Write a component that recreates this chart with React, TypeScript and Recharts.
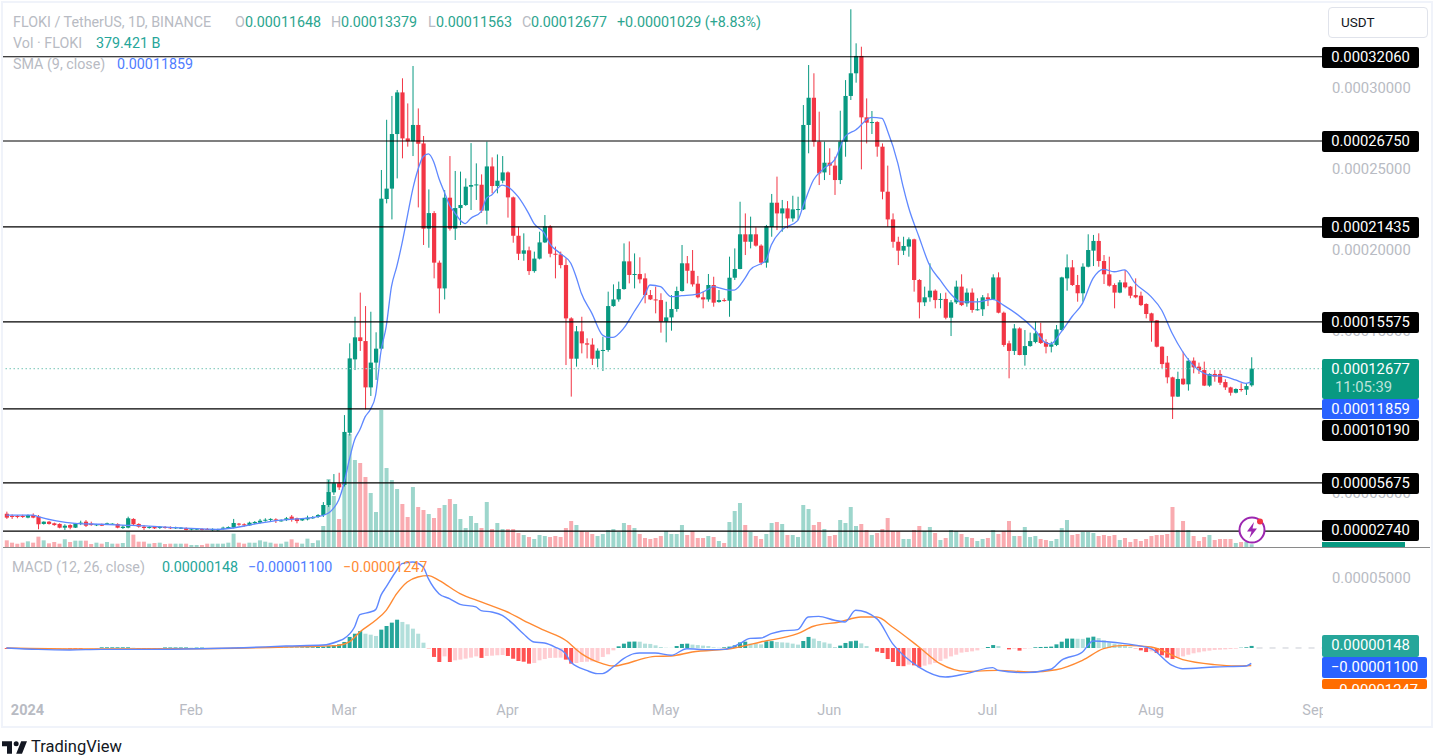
import React from "react";
import { ComposedChart, Bar, Line, XAxis, YAxis, ReferenceLine, Cell } from "recharts";

// All prices are in units of 0.00001 USDT. Each candle row: open, high, low, close.
const candlesDec = [[3.72,3.85,3.40,3.48],[3.58,3.68,3.40,3.52],[3.58,3.64,3.44,3.52],[3.58,3.66,3.46,3.52]];
const candlesJan = [[3.48,3.68,3.44,3.64],[3.64,3.74,3.44,3.48],[3.54,3.64,2.76,3.07],[3.09,3.25,3.05,3.23],[3.23,3.27,3.05,3.09],[3.13,3.17,2.98,3.02],[3.09,3.13,2.82,2.86],[2.86,3.07,2.72,2.98],[3.02,3.07,2.76,2.86],[2.86,3.15,2.84,3.13],[3.11,3.29,3.02,3.17],[3.23,3.33,2.90,2.98],[3.11,3.23,2.98,3.02],[3.00,3.09,2.96,3.07],[3.07,3.11,2.96,2.98],[3.07,3.17,3.05,3.13],[3.07,3.13,3.05,3.11],[3.09,3.13,2.82,2.86],[2.84,3.02,2.78,2.92],[2.86,3.54,2.82,3.44],[3.40,3.44,2.98,3.07],[3.09,3.13,2.86,2.92],[2.92,3.02,2.72,2.84],[2.86,2.96,2.80,2.90],[2.90,2.96,2.78,2.82],[2.84,2.96,2.78,2.92],[2.90,2.96,2.80,2.84],[2.88,2.94,2.78,2.82],[2.82,2.92,2.78,2.88],[2.82,2.90,2.78,2.86],[2.84,2.88,2.70,2.72]];
const candlesFeb = [[2.74,2.84,2.70,2.80],[2.76,2.84,2.72,2.80],[2.78,2.82,2.70,2.74],[2.78,2.84,2.72,2.74],[2.70,2.82,2.66,2.78],[2.70,2.80,2.66,2.76],[2.80,2.92,2.74,2.86],[2.82,2.94,2.80,2.90],[2.86,3.40,2.82,3.15],[3.11,3.15,2.98,3.07],[3.07,3.13,2.92,3.00],[3.00,3.23,2.98,3.17],[3.13,3.27,3.07,3.21],[3.17,3.40,3.11,3.29],[3.31,3.44,3.23,3.35],[3.37,3.44,3.27,3.40],[3.37,3.44,3.15,3.29],[3.27,3.37,3.23,3.31],[3.33,3.52,3.27,3.44],[3.54,3.64,3.23,3.37],[3.44,3.48,3.13,3.27],[3.31,3.44,3.27,3.40],[3.37,3.60,3.31,3.48],[3.44,3.58,3.40,3.52],[3.52,3.70,3.46,3.64],[3.64,4.44,3.52,4.26],[4.26,5.80,4.14,5.06],[5.04,6.17,4.88,5.60],[5.60,6.25,5.19,5.35]];
const candlesMar = [[5.50,9.81,5.40,8.77],[8.72,14.24,8.55,13.31],[13.25,15.88,12.59,14.61],[14.61,17.37,13.77,14.38],[14.38,16.54,10.16,11.52],[11.52,16.19,10.99,13.05],[13.05,14.92,11.98,13.91],[13.91,24.94,13.83,23.17],[23.15,28.04,22.88,23.79],[23.79,29.51,21.89,27.16],[27.16,29.88,24.42,29.73],[29.73,30.60,25.66,26.89],[26.89,29.05,26.38,26.71],[26.71,31.36,25.80,27.72],[27.72,28.74,22.63,26.56],[26.58,27.04,20.31,21.32],[21.32,23.74,20.14,22.28],[22.28,22.40,18.25,19.22],[19.22,19.35,16.09,17.63],[17.63,23.70,16.95,23.23],[23.23,25.80,21.20,21.32],[21.32,24.88,20.62,22.59],[22.59,24.84,21.54,22.78],[22.78,24.42,22.72,23.91],[23.91,26.60,22.47,24.01],[24.01,25.35,23.09,24.05],[24.03,24.67,22.30,22.43],[22.43,26.69,21.58,25.16],[25.16,25.72,23.50,23.95],[23.95,25.90,23.50,24.28],[24.28,25.80,24.12,24.79]];
const candlesApr = [[24.79,24.85,22.00,23.25],[23.25,23.30,20.45,20.88],[20.88,21.44,19.38,19.77],[19.77,21.03,19.34,19.98],[19.98,20.21,18.46,18.70],[18.70,19.90,18.60,19.47],[19.47,21.13,19.42,20.47],[20.47,22.16,20.43,21.46],[21.46,21.54,19.55,19.77],[19.77,20.21,18.25,19.73],[19.73,19.90,18.87,19.07],[19.07,19.49,12.90,15.78],[15.78,15.85,10.95,13.29],[13.29,15.31,12.80,14.98],[14.98,15.88,13.62,14.24],[14.24,14.55,13.31,14.16],[14.16,14.55,12.90,13.29],[13.29,13.93,12.76,13.79],[13.79,14.65,12.53,13.83],[13.83,17.43,13.72,16.54],[16.54,17.88,16.50,16.95],[16.95,18.05,16.81,17.59],[17.59,20.41,17.55,19.30],[19.30,20.53,17.94,18.46],[18.46,19.79,17.63,18.52],[18.52,19.55,17.94,18.19],[18.25,18.56,16.71,17.22],[17.22,17.53,16.91,16.95],[16.95,17.74,16.09,16.91],[16.91,17.33,14.90,15.58]];
const candlesMay = [[15.58,16.81,14.30,15.84],[15.84,17.22,15.02,16.36],[16.36,17.74,16.19,17.47],[17.47,20.31,17.43,19.18],[19.18,19.63,17.94,18.72],[18.72,20.00,17.74,17.88],[17.92,18.40,17.02,17.08],[17.08,17.43,16.40,16.95],[16.95,18.52,16.81,17.84],[17.84,18.35,16.50,16.75],[16.79,17.53,16.75,16.91],[16.91,17.02,16.81,16.85],[16.87,19.59,15.88,18.29],[18.29,20.10,18.15,18.83],[18.83,22.98,18.81,20.97],[20.97,22.26,19.69,20.51],[20.51,22.06,20.10,20.97],[20.97,21.40,20.21,20.27],[20.27,20.35,19.07,19.22],[19.22,21.55,18.91,21.48],[21.42,23.46,20.82,22.92],[22.92,24.53,21.23,22.26],[22.26,23.09,21.13,22.57],[22.57,23.02,21.34,21.95],[21.95,23.35,21.75,22.51],[22.47,23.29,21.85,22.53],[22.51,28.95,22.47,27.72],[27.72,31.42,25.97,29.40],[29.40,30.91,26.38,26.69],[26.69,28.54,24.01,24.73],[24.79,26.69,24.32,25.39]];
const candlesJun = [[25.39,26.28,24.63,25.21],[25.21,25.76,23.40,24.32],[24.32,28.60,24.07,26.69],[26.69,30.49,25.76,29.51],[29.51,34.86,29.26,30.91],[30.91,32.76,30.33,31.98],[31.98,32.55,24.98,28.19],[28.19,29.36,26.58,27.86],[27.86,28.58,27.16,27.90],[27.90,27.95,25.76,26.38],[26.38,26.58,23.13,23.60],[23.60,25.21,21.44,21.89],[21.89,22.26,20.14,20.51],[20.51,20.82,19.07,19.96],[19.96,20.82,19.69,20.25],[20.21,20.78,19.59,20.66],[20.66,20.70,17.43,18.15],[18.15,18.20,15.78,16.77],[16.77,17.74,16.54,17.08],[17.08,19.18,16.81,17.49],[17.49,17.57,16.40,16.91],[16.93,17.33,16.40,16.98],[16.98,17.37,15.72,15.82],[15.82,16.91,14.69,16.77],[16.77,18.11,16.67,17.74],[17.74,18.50,16.54,16.60],[16.71,17.63,16.50,17.37],[17.37,17.63,16.13,16.30],[16.30,17.02,16.26,16.34],[16.34,17.22,15.93,17.08]];
const candlesJul = [[17.08,17.33,16.54,16.95],[16.95,18.50,16.91,18.31],[18.31,18.62,16.09,16.13],[16.13,16.20,14.03,14.14],[14.24,14.40,12.08,13.77],[13.77,15.43,13.52,15.16],[15.16,15.23,13.50,13.52],[13.52,15.06,12.86,14.07],[14.07,14.90,14.03,14.38],[14.32,15.58,14.24,14.86],[14.86,15.51,14.20,14.26],[14.32,14.49,13.62,14.03],[14.03,14.34,13.68,14.18],[14.14,15.37,14.07,15.10],[15.06,18.35,15.02,18.31],[18.25,19.73,17.49,18.93],[18.93,19.38,17.78,17.84],[17.84,18.46,16.81,17.33],[17.33,19.18,16.81,18.97],[18.97,20.97,18.93,20.00],[19.96,20.93,19.01,20.56],[20.56,21.03,18.97,19.32],[19.32,19.69,17.90,18.50],[18.50,19.59,17.74,17.80],[17.84,17.94,16.40,17.37],[17.37,18.15,17.33,18.00],[18.00,18.77,17.63,17.70],[17.74,17.78,17.02,17.18],[17.22,18.25,17.02,17.08],[17.18,17.43,16.54,16.60],[16.67,16.71,15.78,16.05]];
const candlesAug = [[16.09,16.13,14.34,15.62],[15.66,15.68,13.99,14.03],[14.03,14.05,12.70,12.96],[13.05,13.46,11.77,12.14],[12.14,12.18,9.57,10.95],[10.95,12.49,10.93,12.04],[12.06,13.72,11.67,11.71],[11.71,13.31,11.32,13.17],[13.17,13.37,12.39,12.76],[12.80,13.05,12.35,12.59],[12.59,13.11,11.60,11.63],[11.63,12.39,11.56,12.35],[12.35,12.59,11.87,12.18],[12.35,12.59,11.67,11.81],[11.85,12.02,11.36,11.52],[11.52,11.56,11.01,11.19],[11.19,11.46,11.15,11.42],[11.42,11.77,11.26,11.38],[11.38,11.77,11.05,11.60],[11.648,13.379,11.563,12.677]];

// Volume, in billions of FLOKI
const volDec = [934,607,467,607];
const volJan = [794,607,1448,934,514,700,467,1074,700,887,887,887,420,607,467,700,467,467,560,2195,1728,747,747,467,560,607,420,467,467,467,467];
const volFeb = [280,280,280,467,467,467,467,607,1868,607,467,607,607,934,747,607,467,467,747,1074,607,467,1168,560,934,2940,9520,7140,3920];
const volMar = [8820,15820,12180,11760,9800,7560,4900,19180,11060,9380,8120,6020,4200,8400,5600,5180,4620,4060,5460,5880,6720,6020,3920,2660,4340,3360,2660,6300,2520,3360,2520];
const volApr = [2520,2520,1960,1680,1400,1120,1680,1540,1400,1540,1400,2660,3640,3080,2240,2100,1820,1540,1820,2380,2520,2100,3360,3080,2660,1820,1260,1120,1260,1540];
const volMay = [2240,1820,1820,3080,1680,2240,1260,1260,1540,1400,840,560,3500,5040,6160,3080,2100,1540,1120,1820,3360,3500,3220,1680,1680,1400,5880,5320,3080,3500,2520];
const volJun = [1540,1680,3780,3360,5600,2940,3220,2380,1680,1960,2520,4060,2240,2240,1120,1120,2380,2940,2240,2800,1960,980,1260,2380,2240,1820,1400,1260,840,1120];
const volJul = [1260,2380,1820,2240,3640,1540,1540,2800,1400,1540,1120,980,840,1120,2660,3780,1680,1820,2100,2100,1960,1540,1680,1540,1680,980,1260,700,1120,840,1120];
const volAug = [1540,1680,1680,1820,5600,2380,3640,2380,1540,840,1400,1680,980,1120,1120,1120,560,700,700,379.421];

// MACD histogram, units of 0.00001
const histDec = [-0.07,-0.07,-0.07,-0.07];
const histJan = [-.02,-.02,-.02,-.02,-.02,-.02,-.02,-.02,-.05,-.05,-.05,-.01,-.01,-.01,.05,.05,.05,.05,.05,.05,.02,-.05,-.05,-.05,-.05,-.05,.04,.04,.04,.04,.04];
const histFeb = [.03,.03,.03,-.02,-.02,-.02,-.02,-.02,.01,.02,.02,.02,.03,.03,.03,.04,.03,.03,.03,.03,.03,.04,.05,.05,.07,.10,.14,.19,.26];
const histMar = [.43,.79,1.02,1.21,1.02,.95,.86,1.31,1.57,1.81,2.02,1.86,1.69,1.38,1.02,.38,-.02,-.64,-1,-.6,-1,-.88,-.83,-.76,-.69,-.6,-.71,-.57,-.55,-.52,-.5];
const histApr = [-.57,-.76,-.93,-.98,-1.12,-1.07,-.88,-.79,-.71,-.70,-.69,-.83,-1.12,-1.07,-1,-.98,-.96,-.93,-.64,-.45,-.17,.12,.31,.45,.46,.45,.31,.29,.19,.07];
const histMay = [.02,.01,.14,.29,.31,.24,.21,.17,.14,.05,.02,.05,.10,.19,.40,.45,.31,.30,.26,.48,.49,.43,.40,.38,.31,.24,.50,.79,.67,.50,.40];
const histJun = [.31,.07,.17,.36,.48,.52,.33,.14,0,-.26,-.36,-.79,-1,-1.29,-1.30,-1.19,-1.24,-1.38,-1.26,-1.17,-1.07,-.93,-.76,-.6,-.48,-.33,-.29,-.24,-.17,-.02];
const histJul = [.07,.21,.14,0,-.1,-.05,-.19,-.05,-.02,.05,.07,.08,.10,.26,.45,.67,.67,.66,.65,.74,.81,.71,.55,.40,.31,.26,.19,.07,-.02,-.17,-.29];
const histAug = [-.24,-.36,-.52,-.69,-.79,-.69,-.6,-.48,-.38,-.31,-.24,-.19,-.14,-.12,-.10,-.07,-.05,.02,.05,.148];

// Lines read at [day, value], day 0 = 1 Jan 2024
const smaPoints = [[-4,3.64],[1,3.64],[2,3.54],[9,3.13],[14,3.07],[18,3.02],[23,2.96],[27,2.88],[33,2.78],[36,2.76],[39,2.84],[42,3.02],[48,3.33],[51,3.40],[54,3.48],[57,3.75],[58,4.05],[59,4.57],[60,5.6],[61,7.04],[62,8.27],[63,8.9],[64,9.7],[65,10.16],[66,11.05],[67,13.72],[68,15.27],[69,17.74],[70,18.97],[71,20.41],[72,22.06],[73,23.70],[74,24.94],[75,25.76],[76,25.93],[77,25.45],[78,24.42],[79,23.6],[80,22.78],[81,22.3],[82,21.85],[83,21.63],[84,21.95],[86,22.37],[87,23.19],[88,23.40],[90,24.01],[91,23.91],[93,23.29],[95,22.26],[96,21.65],[98,21.03],[99,20.4],[101,19.79],[103,19.18],[104,18.35],[105,17.33],[107,16.09],[109,14.75],[110,14.61],[111,14.61],[113,15.16],[115,16.19],[117,17.22],[118,17.84],[120,17.74],[122,17.12],[124,17.18],[127,17.28],[129,17.57],[130,17.74],[133,17.53],[134,17.53],[136,18.25],[137,18.77],[140,19.38],[141,20.31],[143,21.23],[146,21.81],[147,22.67],[149,24.32],[151,25.04],[153,25.56],[155,27.0],[157,27.41],[160,28.19],[162,28.13],[163,27.4],[165,25.35],[166,23.91],[167,22.67],[169,20.82],[171,19.07],[173,18.15],[175,17.30],[177,16.8],[180,16.8],[183,16.95],[185,16.6],[191,15.06],[193,14.28],[194,14.2],[196,14.96],[198,15.88],[200,16.71],[202,18.25],[204,18.81],[206,18.66],[208,18.77],[210,17.94],[213,17.12],[215,16.3],[217,14.86],[219,13.72],[222,12.59],[224,12.28],[227,12.18],[229,11.98],[231,11.77],[232,11.859]];
const macdPoints = [[-4,0],[2,-.1],[8,-.14],[14,-.1],[22,-.1],[30,-.07],[37,-.02],[41,.02],[49,.14],[56,.21],[59,.5],[60,.67],[62,1.5],[63,2.38],[65,2.57],[66,2.74],[67,3.76],[68,4.36],[70,5.55],[71,6.02],[73,6.14],[75,5.79],[76,4.95],[78,3.88],[80,3.52],[82,3.12],[85,2.93],[86,2.67],[88,2.57],[90,2.33],[92,1.74],[94,1.02],[96,.43],[98,.36],[100,.07],[102,-.4],[103,-1],[106,-1.6],[108,-1.83],[109,-1.83],[111,-1.36],[113,-.76],[115,-.4],[116,-.36],[119,-.36],[122,-.52],[125,-.05],[129,-.12],[132,-.1],[135,.31],[137,.69],[139,.71],[141,1.02],[143,1.21],[146,1.31],[148,2.21],[150,2.26],[153,1.98],[155,1.86],[157,2.69],[161,2.1],[164,.31],[169,-1.36],[174,-2.07],[178,-1.83],[183,-1.4],[184,-1.6],[189,-1.76],[194,-1.52],[196,-.88],[200,-.29],[202,.5],[208,.31],[213,-.05],[217,-1.24],[219,-1.48],[225,-1.36],[231,-1.29],[232,-1.10]];
const signalPoints = [[-4,0],[10,-.07],[30,-.05],[49,.07],[56,.14],[59,.19],[61,.43],[63,1.14],[66,1.98],[68,2.69],[70,3.88],[72,4.71],[74,5.07],[76,5.17],[78,4.83],[82,3.88],[86,3.29],[91,2.57],[94,1.98],[98,1.26],[102,.55],[105,-.4],[109,-1.12],[111,-1.29],[114,-1.07],[116,-.83],[119,-.6],[122,-.57],[126,-.29],[134,0],[139,.43],[146,1.02],[149,1.55],[154,1.86],[158,2.21],[161,2.21],[164,1.5],[169,.07],[173,-1.12],[178,-1.67],[184,-1.6],[190,-1.71],[195,-1.55],[200,-.88],[204,-.05],[208,.19],[213,.07],[219,-.83],[225,-1.19],[229,-1.29],[232,-1.247]];

const levelPrices = [31.93, 26.73, 21.43, 15.56, 10.19, 5.63, 2.65];
const priceTicks = [30, 25, 20, 15, 10, 5];
const macdTicks = [5];
const monthDays = [0, 31, 60, 91, 121, 152, 182, 213, 244];
const monthNames = ["2024", "Feb", "Mar", "Apr", "May", "Jun", "Jul", "Aug", "Sep"];
const lastClose = 12.677;

const allCandles = [...candlesDec, ...candlesJan, ...candlesFeb, ...candlesMar, ...candlesApr, ...candlesMay, ...candlesJun, ...candlesJul, ...candlesAug];
const allVol = [...volDec, ...volJan, ...volFeb, ...volMar, ...volApr, ...volMay, ...volJun, ...volJul, ...volAug];
const allHist = [...histDec, ...histJan, ...histFeb, ...histMar, ...histApr, ...histMay, ...histJun, ...histJul, ...histAug];
const rows = allCandles.map((c, k) => ({
  day: k - 4, open: c[0], high: c[1], low: c[2], close: c[3], range: [c[2], c[1]], vol: allVol[k], hist: allHist[k],
}));
const toRows = (pts: number[][]) => pts.map(([day, v]) => ({ day, v }));

const UP = "#089981";
const DOWN = "#f23645";
const FONT = "Roboto, sans-serif";
const GREY = "#b8bbc3";
const XDOMAIN: [number, number] = [-4.645, 245.6];

const histColor = (k: number) => {
  const h = allHist[k];
  const prev = k > 0 ? allHist[k - 1] : h;
  if (h >= 0) return h >= prev ? "#26a69a" : "#b2dfdb";
  return h <= prev ? "#ff5252" : "#ffcdd2";
};

function Candle(props: any) {
  const { x, y, width, height, payload } = props;
  const { open, high, low, close } = payload;
  const unit = height / Math.max(high - low, 1e-6);
  const top = y + (high - Math.max(open, close)) * unit;
  const bodyH = Math.max(Math.abs(open - close) * unit, 1);
  const color = close >= open ? UP : DOWN;
  const cx = x + width / 2;
  return (
    <g>
      <line x1={cx} x2={cx} y1={y} y2={y + height} stroke={color} strokeWidth={1} />
      <rect x={x} y={top} width={width} height={bodyH} fill={color} />
    </g>
  );
}

function XTick(props: any) {
  const { x, y, payload } = props;
  const name = monthNames[monthDays.indexOf(payload.value)];
  return (
    <text x={x} y={y} textAnchor="middle" dominantBaseline="middle" fontFamily={FONT} fontSize={14.5}
      fontWeight={name === "2024" ? 700 : 400} fill={GREY}>{name}</text>
  );
}

function Tag({ top, height = 21, width = 97, bg = "#000", children, clipOffset = 0 }: any) {
  return (
    <div style={{ position: "absolute", left: 1322, top, width, height, background: bg, borderRadius: 2, overflow: "hidden",
      color: "#fff", fontFamily: FONT, fontSize: 14.8, lineHeight: "21px", textAlign: "center" }}>
      <div style={{ marginTop: clipOffset }}>{children}</div>
    </div>
  );
}

function Txt({ x, y, color = GREY, children }: any) {
  return (
    <div style={{ position: "absolute", left: x, top: y - 10, height: 20, lineHeight: "20px", whiteSpace: "nowrap",
      fontFamily: FONT, fontSize: 14.3, color }}>{children}</div>
  );
}

export default function App() {
  const tealText = "#2ca58f";
  return (
    <div style={{ position: "absolute", left: 0, top: 0, width: 1433, height: 755, background: "#fff", overflow: "hidden" }}>
      {/* Volume pane overlay */}
      <div style={{ position: "absolute", left: 0, top: 0 }}>
        <ComposedChart width={1433} height={547} data={rows} margin={{ top: 8, right: 110, bottom: 0, left: 3 }}>
          <XAxis dataKey="day" type="number" domain={XDOMAIN} hide allowDataOverflow />
          <YAxis domain={[0, 75460]} hide allowDataOverflow />
          <Bar dataKey="vol" barSize={4} isAnimationActive={false}>
            {rows.map((r, k) => (
              <Cell key={k} fill={r.close >= r.open ? "#9dd6cc" : "#f9abb0"} />
            ))}
          </Bar>
        </ComposedChart>
      </div>
      {/* Price pane */}
      <div style={{ position: "absolute", left: 0, top: 0 }}>
        <ComposedChart width={1433} height={547} data={rows} margin={{ top: 8, right: 0, bottom: 0, left: 3 }}>
          <XAxis dataKey="day" type="number" domain={XDOMAIN} hide allowDataOverflow />
          <YAxis orientation="right" width={110} domain={[1.667, 34.94]} ticks={priceTicks} interval={0} allowDataOverflow
            axisLine={false} tickLine={false}
            tick={{ fontFamily: FONT, fontSize: 14.8, fill: GREY, dx: 1 }}
            tickFormatter={(v: number) => (v * 1e-5).toFixed(8)} />
          <Bar dataKey="range" barSize={4.2} shape={Candle} isAnimationActive={false} />
          <Line data={toRows(smaPoints)} dataKey="v" type="monotone" dot={false} stroke="#5f88ff" strokeWidth={1.3} isAnimationActive={false} />
          <ReferenceLine y={lastClose} stroke="#8fd0c4" strokeDasharray="1.5 2.5" strokeWidth={1.2} />
          {levelPrices.map((p) => (
            <ReferenceLine key={p} y={p} stroke="#000" strokeWidth={1.2} />
          ))}
        </ComposedChart>
      </div>
      {/* MACD pane */}
      <div style={{ position: "absolute", left: 0, top: 548 }}>
        <ComposedChart width={1433} height={177} data={rows} margin={{ top: 0, right: 0, bottom: 0, left: 3 }}>
          <XAxis dataKey="day" type="number" domain={XDOMAIN} ticks={monthDays} interval={0} height={35} allowDataOverflow
            axisLine={false} tickLine={false} tick={<XTick />} tickMargin={15} />
          <YAxis orientation="right" width={110} domain={[-3, 7.14]} ticks={macdTicks} interval={0} allowDataOverflow
            axisLine={false} tickLine={false}
            tick={{ fontFamily: FONT, fontSize: 14.8, fill: GREY, dx: 1 }}
            tickFormatter={(v: number) => (v * 1e-5).toFixed(8)} />
          <ReferenceLine segment={[{ x: 233, y: 0 }, { x: 245.6, y: 0 }]} stroke="#c9ccd4" strokeDasharray="6 7" />
          <Bar dataKey="hist" barSize={4} isAnimationActive={false}>
            {rows.map((_, k) => (
              <Cell key={k} fill={histColor(k)} />
            ))}
          </Bar>
          <Line data={toRows(signalPoints)} dataKey="v" type="monotone" dot={false} stroke="#ff8a33" strokeWidth={1.4} isAnimationActive={false} />
          <Line data={toRows(macdPoints)} dataKey="v" type="monotone" dot={false} stroke="#5f88ff" strokeWidth={1.4} isAnimationActive={false} />
        </ComposedChart>
      </div>

      {/* Sep clipping mask and pane divider */}
      <div style={{ position: "absolute", left: 1323, top: 692, width: 100, height: 30, background: "#fff" }} />
      <div style={{ position: "absolute", left: 3, top: 546.5, width: 1427, height: 1.5, background: "#8a8a8a" }} />

      {/* Legends */}
      <Txt x={13} y={22}>FLOKI / TetherUS, 1D, BINANCE</Txt>
      <Txt x={235} y={22}>O</Txt><Txt x={245} y={22} color={tealText}>0.00011648</Txt>
      <Txt x={331} y={22}>H</Txt><Txt x={341} y={22} color={tealText}>0.00013379</Txt>
      <Txt x={428} y={22}>L</Txt><Txt x={436} y={22} color={tealText}>0.00011563</Txt>
      <Txt x={522} y={22}>C</Txt><Txt x={531} y={22} color={tealText}>0.00012677</Txt>
      <Txt x={617} y={22} color={tealText}>+0.00001029 (+8.83%)</Txt>
      <Txt x={13} y={43}>Vol · FLOKI</Txt><Txt x={96} y={43} color="#26a69a">379.421 B</Txt>
      <Txt x={13} y={64}>SMA (9, close)</Txt><Txt x={117} y={64} color="#4f7dff">0.00011859</Txt>
      <Txt x={12} y={567}>MACD (12, 26, close)</Txt><Txt x={162} y={567} color="#26a69a">0.00000148</Txt>
      <Txt x={248} y={567} color="#4f7dff">−0.00001100</Txt><Txt x={343} y={567} color="#ff8a33">−0.00001247</Txt>

      {/* Price tags */}
      <Tag top={47}>0.00032060</Tag>
      <Tag top={131}>0.00026750</Tag>
      <Tag top={217}>0.00021435</Tag>
      <Tag top={312}>0.00015575</Tag>
      <Tag top={359} height={40} bg={UP}>
        <div>0.00012677</div>
        <div style={{ marginTop: -3, color: "#bfe3dc", textAlign: "left", paddingLeft: 13 }}>11:05:39</div>
      </Tag>
      <Tag top={399} height={20} bg="#2962ff">0.00011859</Tag>
      <Tag top={420}>0.00010190</Tag>
      <Tag top={473}>0.00005675</Tag>
      <Tag top={520}>0.00002740</Tag>
      <div style={{ position: "absolute", left: 1322, top: 542, width: 83, height: 5, background: "#089981" }} />
      <Tag top={635} height={22} bg="#26a69a">0.00000148</Tag>
      <Tag top={657} width={105} bg="#2962ff">−0.00001100</Tag>
      <Tag top={679} width={105} height={10} bg="#ff6d00" clipOffset={1}>−0.00001247</Tag>

      {/* Currency button */}
      <div style={{ position: "absolute", left: 1328, top: 7, width: 98, height: 29, border: "1px solid #e0e3eb", borderRadius: 4,
        fontFamily: FONT, fontSize: 13.5, lineHeight: "29px", color: "#131722", paddingLeft: 12, boxSizing: "content-box", width: 86 } as any}>USDT</div>

      {/* Lightning badge */}
      <svg style={{ position: "absolute", left: 1236, top: 514 }} width="32" height="32" viewBox="0 0 32 32">
        <circle cx="16" cy="16" r="12.5" fill="#fff" stroke="#9c27b0" strokeWidth="2" />
        <path d="M18 8 L11 17.5 H15.5 L13.5 24 L21 14.5 H16.5 Z" fill="#9c27b0" />
        <circle cx="24" cy="7.5" r="3" fill="#f23645" />
      </svg>

      {/* Outer frame */}
      <div style={{ position: "absolute", left: 1, top: 1, width: 1428, height: 723, border: "2px solid #f0f3fa", pointerEvents: "none" }} />

      {/* Footer */}
      <svg style={{ position: "absolute", left: 2, top: 740 }} width="25" height="15" viewBox="2 6 30 15">
        <path d="M14 6H2v6h6v9h6V6zm12 15h-7l6-15h7l-6 15zm-7-9a3 3 0 1 0 0-6 3 3 0 0 0 0 6z" fill="#131722" />
      </svg>
      <div style={{ position: "absolute", left: 31, top: 737, fontFamily: FONT, fontSize: 16.5, lineHeight: "20px", color: "#131722" }}>TradingView</div>
    </div>
  );
}
